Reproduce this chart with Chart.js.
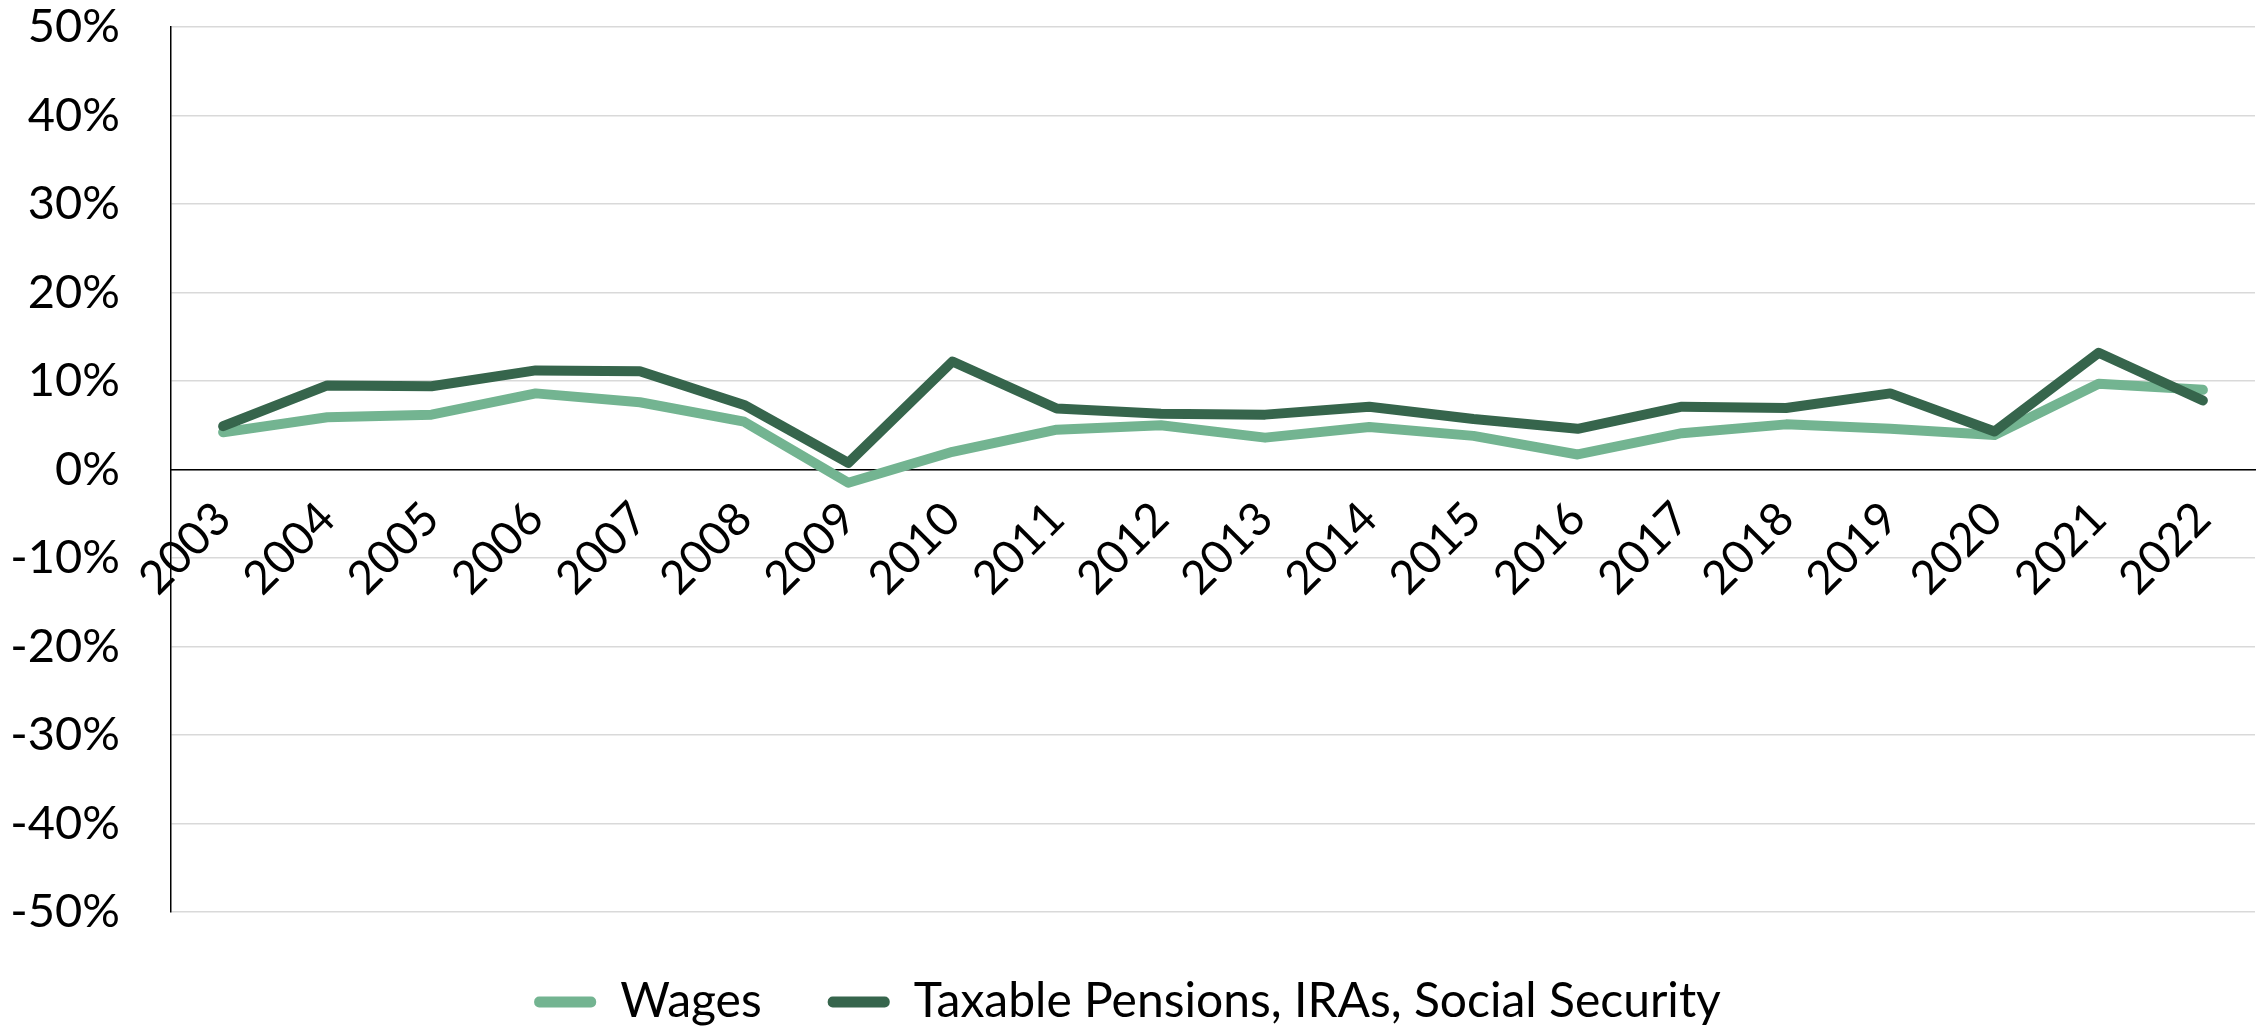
<!DOCTYPE html>
<html>
<head>
<meta charset="utf-8">
<script src="https://cdn.jsdelivr.net/npm/chart.js@4.4.1/dist/chart.umd.min.js"></script>
<style>
  html, body { margin: 0; padding: 0; background: #ffffff; }
  #wrap { width: 2267px; height: 1031px; position: relative; }
</style>
</head>
<body>
<div id="wrap"><canvas id="c" width="2267" height="1031"></canvas></div>
<script>
const years = ['2003','2004','2005','2006','2007','2008','2009','2010','2011','2012','2013','2014','2015','2016','2017','2018','2019','2020','2021','2022'];
const wages = [4.2, 5.9, 6.2, 8.6, 7.6, 5.4, -1.5, 2.0, 4.5, 5.0, 3.6, 4.8, 3.8, 1.7, 4.1, 5.1, 4.6, 3.9, 9.7, 9.0];
const pensions = [4.9, 9.5, 9.4, 11.2, 11.1, 7.3, 0.75, 12.2, 6.9, 6.3, 6.2, 7.1, 5.7, 4.6, 7.1, 6.95, 8.6, 4.3, 13.2, 7.8];
const seriesNames = ['Wages', 'Taxable Pensions, IRAs, Social Security'];
const yTicks = [-50, -40, -30, -20, -10, 0, 10, 20, 30, 40, 50];

const lightGreen = '#73B491';
const darkGreen = '#36654C';
const FONT = 'Lato';

new Chart(document.getElementById('c'), {
  type: 'line',
  data: {
    labels: years,
    datasets: [
      {
        label: seriesNames[0], data: wages, order: 1,
        borderColor: lightGreen, backgroundColor: lightGreen,
        borderWidth: 10, pointRadius: 0, tension: 0,
        borderCapStyle: 'round', borderJoinStyle: 'round', fill: false
      },
      {
        label: seriesNames[1], data: pensions, order: 0,
        borderColor: darkGreen, backgroundColor: darkGreen,
        borderWidth: 10, pointRadius: 0, tension: 0,
        borderCapStyle: 'round', borderJoinStyle: 'round', fill: false
      }
    ]
  },
  options: {
    responsive: false,
    animation: false,
    devicePixelRatio: 1,
    layout: { padding: { left: 0, right: 12, top: 27, bottom: -5 } },
    scales: {
      x: {
        type: 'category',
        position: { y: 0 },
        offset: true,
        grid: { display: false },
        border: { display: true, color: '#000000', width: 1.5 },
        ticks: {
          font: { family: FONT, size: 46 },
          color: '#000000',
          minRotation: 45, maxRotation: 45,
          padding: 14,
          autoSkip: false
        },
        afterFit: (s) => { s.height = 0; }
      },
      y: {
        min: -50, max: 50,
        afterBuildTicks: (s) => { s.ticks = yTicks.map(v => ({ value: v })); },
        grid: { color: '#D9D9D9', lineWidth: 1.5, drawTicks: false },
        border: { display: true, color: '#000000', width: 1.5 },
        ticks: {
          font: { family: FONT, size: 47 },
          color: '#000000',
          padding: 51,
          callback: (v) => v + '%'
        },
        afterFit: (s) => { s.width = 171; s.paddingTop = 0; s.paddingBottom = 0; }
      }
    },
    plugins: {
      legend: {
        position: 'bottom',
        labels: {
          font: { family: FONT, size: 48 },
          color: '#000000',
          boxWidth: 62, boxHeight: 11,
          useBorderRadius: true, borderRadius: 5,
          padding: 66,
          sort: (a, b) => a.datasetIndex - b.datasetIndex,
          generateLabels: (chart) => {
            const items = Chart.defaults.plugins.legend.labels.generateLabels(chart);
            items.forEach(it => { it.lineWidth = 0; it.strokeStyle = 'rgba(0,0,0,0)'; });
            return items;
          }
        }
      },
      tooltip: { enabled: false }
    }
  }
});
</script>
</body>
</html>
